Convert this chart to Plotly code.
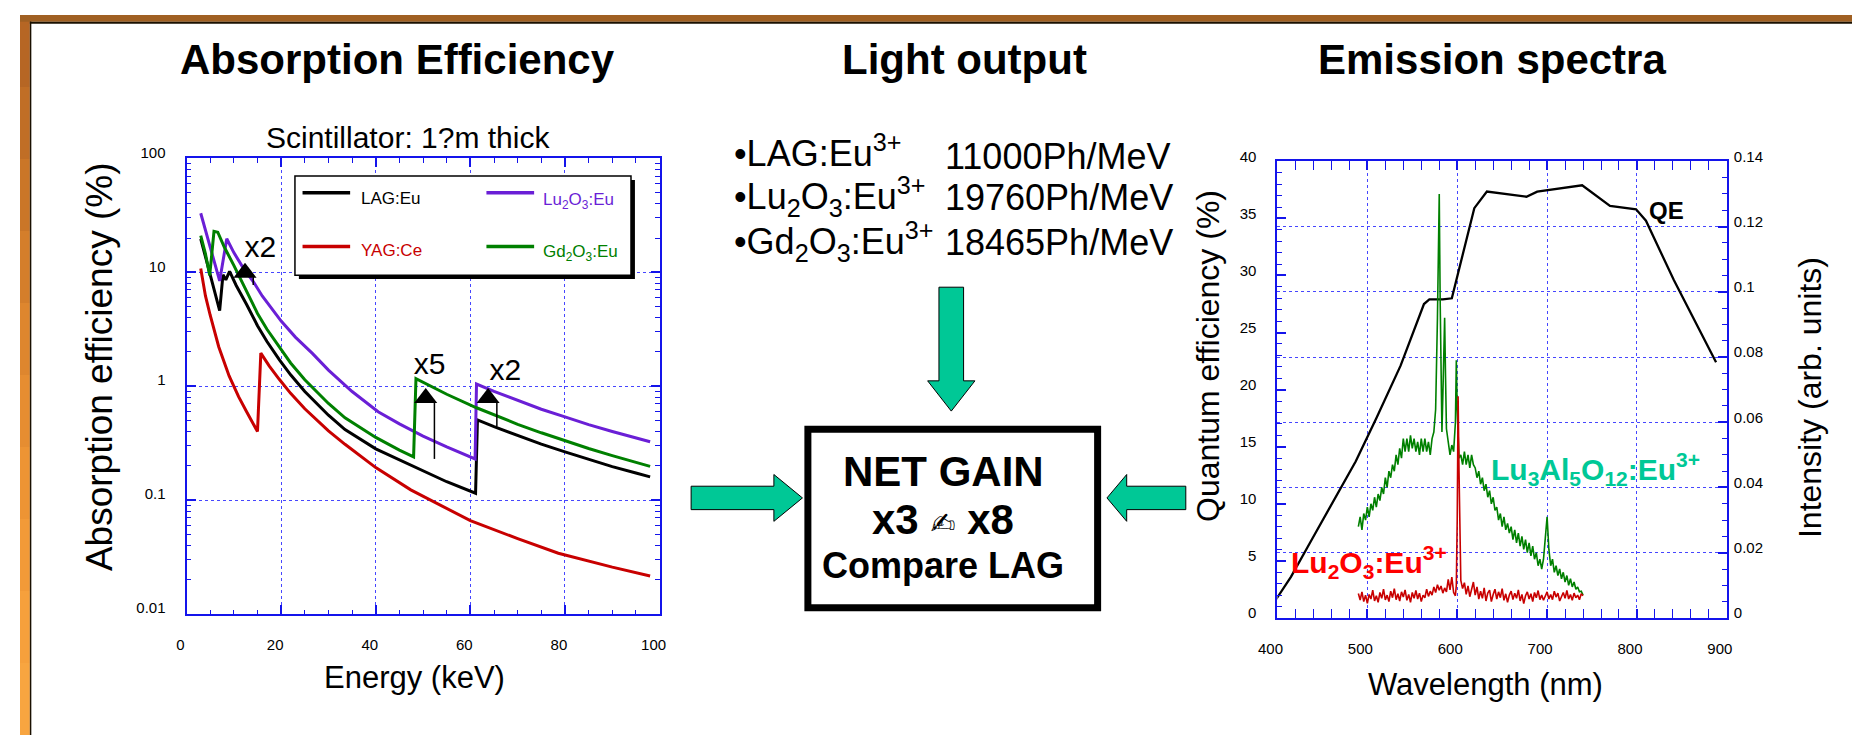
import plotly.graph_objects as go

W, H = 1859, 738
FONT = "Liberation Sans, Arial, Helvetica, sans-serif"

# ---------------- Absorption efficiency (left panel) ----------------
lag_energy = [3, 4, 5, 6, 7, 7.7, 8.3, 9.1, 10.5, 12.7, 15, 17, 19.6, 22, 25, 30, 33.5, 40, 45, 50,
              55, 61.1, 61.5, 65, 70, 75, 80, 85, 90, 95, 98]
lag_abs = [19.7, 13.7, 9.5, 6.6, 4.6, 9.5, 8.6, 10.2, 7.66, 5.22, 3.40, 2.47, 1.71, 1.26, 0.90, 0.556,
           0.416, 0.282, 0.225, 0.18, 0.145, 0.115, 0.506, 0.441, 0.367, 0.31, 0.265, 0.227, 0.197,
           0.173, 0.16]

gd_energy = [3, 4, 4.9, 5.8, 6.6, 8, 10, 12.7, 15, 17, 19.6, 22, 25, 30, 33.5, 40, 45, 48, 48.5, 55,
             61.3, 65, 70, 75, 80, 85, 90, 95, 98]
gd_abs = [21, 14.5, 9.4, 22.9, 22.5, 16.6, 11.5, 6.8, 4.35, 3.16, 2.19, 1.60, 1.14, 0.706, 0.528,
          0.355, 0.275, 0.24, 1.167, 0.85, 0.647, 0.558, 0.463, 0.39, 0.331, 0.284, 0.246, 0.215, 0.198]

lu_energy = [3, 5, 7, 8.5, 10, 12, 14.1, 16, 18, 20, 23, 26.6, 30, 35, 40.5, 45, 50, 55, 61, 61.3,
             65, 70, 75, 80, 85, 90, 95, 98]
lu_abs = [33, 16.6, 8.4, 19.7, 14.9, 10.9, 8.3, 6.2, 4.75, 3.73, 2.70, 1.94, 1.385, 0.898, 0.597,
          0.467, 0.365, 0.293, 0.23, 1.045, 0.90, 0.752, 0.628, 0.538, 0.46, 0.40, 0.35, 0.325]

yag_energy = [3, 4, 5, 6.8, 9, 11, 12.7, 15, 15.7, 17.5, 19.6, 22, 25, 30, 33.5, 40, 47.4, 55, 60,
              70, 78.6, 90, 98]
yag_abs = [10.8, 6.2, 4.2, 2.22, 1.23, 0.81, 0.597, 0.40, 1.95, 1.5, 1.15, 0.866, 0.634, 0.405,
           0.309, 0.193, 0.123, 0.0847, 0.066, 0.0459, 0.0342, 0.0258, 0.0216]

# gain markers (triangles, stems, labels)
mark_energy = [12.36, 50.56, 63.75]
mark_abs = [9.9, 0.787, 0.787]
stem_energy = [14.1, 52.4, 65.6]
stem_top = [9.14, 0.726, 0.726]
stem_bottom = [7.75, 0.23, 0.444]
gain_labels = ["x2", "x5", "x2"]
gain_label_energy = [15.6, 51.4, 67.4]
gain_label_abs = [16, 1.5, 1.33]

legend_names = ["LAG:Eu", "Lu<sub>2</sub>O<sub>3</sub>:Eu", "YAG:Ce", "Gd<sub>2</sub>O<sub>3</sub>:Eu"]

# ---------------- Light output (middle) ----------------
lo_materials = ["•LAG:Eu<sup>3+</sup>", "•Lu<sub>2</sub>O<sub>3</sub>:Eu<sup>3+</sup>",
                "•Gd<sub>2</sub>O<sub>3</sub>:Eu<sup>3+</sup>"]
lo_values = ["11000Ph/MeV", "19760Ph/MeV", "18465Ph/MeV"]

# ---------------- Emission spectra (right panel) ----------------
qe_wl = [392, 415, 437, 460, 487, 510, 537, 563, 569, 584, 594, 619, 633, 677, 689, 739, 770, 799,
         810, 841, 888]
qe_val = [0.85, 3.6, 6.7, 9.9, 13.7, 17.5, 22.1, 27.5, 27.9, 27.9, 28.0, 35.9, 37.35, 36.9, 37.35,
          37.9, 36.1, 35.8, 34.8, 29.6, 22.4]

lag_wl = (list(range(490, 577, 2)) + [578, 579, 580, 581, 582, 583, 584, 585, 586, 587, 588]
          + [590, 592, 594, 596, 598] + [599, 600, 601, 602] + list(range(604, 741, 2)))
lag_int = [0.028, 0.031, 0.027, 0.032, 0.030, 0.034, 0.031, 0.035, 0.033, 0.037,
           0.034, 0.038, 0.036, 0.040, 0.038, 0.043, 0.040, 0.045, 0.043, 0.047,
           0.045, 0.050, 0.047, 0.052, 0.049, 0.055, 0.051, 0.055, 0.051, 0.056,
           0.052, 0.055, 0.051, 0.054, 0.050, 0.055, 0.051, 0.055, 0.051, 0.054,
           0.050, 0.055, 0.057, 0.064,
           0.092, 0.115, 0.130, 0.098, 0.063, 0.057, 0.068, 0.086, 0.092, 0.074, 0.058,
           0.054, 0.050, 0.053, 0.051, 0.060,
           0.079, 0.064, 0.053, 0.049,
           0.050, 0.047, 0.051, 0.047, 0.050, 0.046, 0.050, 0.047, 0.046, 0.043,
           0.045, 0.041, 0.043, 0.039, 0.041, 0.037, 0.039, 0.035, 0.037, 0.033,
           0.034, 0.030, 0.032, 0.028, 0.031, 0.027, 0.029, 0.026, 0.028, 0.024,
           0.027, 0.023, 0.026, 0.022, 0.025, 0.021, 0.024, 0.020, 0.023, 0.019,
           0.022, 0.018, 0.020, 0.016, 0.018, 0.015, 0.018, 0.024, 0.031, 0.021,
           0.016, 0.018, 0.014, 0.016, 0.013, 0.015, 0.012, 0.014, 0.011, 0.013,
           0.010, 0.012, 0.0095, 0.011, 0.0088, 0.0095, 0.0080, 0.0082, 0.0070]

luo_wl = list(range(490, 599, 2)) + [599, 600, 601, 602, 603] + list(range(604, 741, 2))
luo_int = [0.0075, 0.0055, 0.0080, 0.0050, 0.0070, 0.0045, 0.0072, 0.0058, 0.0085, 0.0052,
           0.0068, 0.0048, 0.0078, 0.0060, 0.0088, 0.0055, 0.0070, 0.0050, 0.0082, 0.0062,
           0.0090, 0.0056, 0.0074, 0.0052, 0.0080, 0.0064, 0.0086, 0.0054, 0.0072, 0.0048,
           0.0078, 0.0060, 0.0084, 0.0058, 0.0076, 0.0050, 0.0070, 0.0062, 0.0088, 0.0066,
           0.0082, 0.0070, 0.0095, 0.0078, 0.0102, 0.0085, 0.0098, 0.0076, 0.0092, 0.0080,
           0.0118, 0.0086, 0.0125, 0.0078, 0.0068,
           0.0100, 0.030, 0.068, 0.045, 0.018,
           0.0115, 0.0090, 0.0108, 0.0072, 0.0098, 0.0065, 0.0090, 0.0110, 0.0070, 0.0095,
           0.0058, 0.0082, 0.0060, 0.0092, 0.0052, 0.0076, 0.0085, 0.0050, 0.0072, 0.0088,
           0.0058, 0.0080, 0.0062, 0.0090, 0.0054, 0.0074, 0.0048, 0.0070, 0.0082, 0.0056,
           0.0076, 0.0060, 0.0086, 0.0052, 0.0072, 0.0044, 0.0068, 0.0080, 0.0058, 0.0074,
           0.0050, 0.0078, 0.0062, 0.0084, 0.0056, 0.0070, 0.0054, 0.0066, 0.0080, 0.0058,
           0.0072, 0.0056, 0.0082, 0.0064, 0.0076, 0.0052, 0.0068, 0.0078, 0.0060, 0.0084,
           0.0058, 0.0072, 0.0054, 0.0076, 0.0062, 0.0070, 0.0056, 0.0074, 0.0068]

# ---------------- styling ----------------
BLACK = "#000000"
PURPLE = "#6a1fd6"
RED = "#c80000"
GREEN = "#008000"
TEAL = "#00c896"
BLUE = "rgb(20,20,235)"
GRIDBLUE = "rgb(70,70,255)"


def X(px):
    return px / W


def Y(py):
    return 1 - py / H


fig = go.Figure()

for e, a, c in [(lag_energy, lag_abs, BLACK), (yag_energy, yag_abs, RED),
                (lu_energy, lu_abs, PURPLE), (gd_energy, gd_abs, GREEN)]:
    fig.add_trace(go.Scatter(x=e, y=a, mode="lines", line=dict(color=c, width=3),
                             xaxis="x", yaxis="y", showlegend=False, hoverinfo="skip"))

stem_x, stem_y = [], []
for ex, t, b in zip(stem_energy, stem_top, stem_bottom):
    stem_x += [ex, ex, None]
    stem_y += [t, b, None]
fig.add_trace(go.Scatter(x=stem_x, y=stem_y, mode="lines", line=dict(color=BLACK, width=1.5),
                         xaxis="x", yaxis="y", showlegend=False, hoverinfo="skip"))
fig.add_trace(go.Scatter(x=mark_energy, y=mark_abs, mode="markers",
                         marker=dict(symbol="triangle-up", size=20, color=BLACK),
                         xaxis="x", yaxis="y", showlegend=False, hoverinfo="skip"))
fig.add_trace(go.Scatter(x=gain_label_energy, y=gain_label_abs, mode="text", text=gain_labels,
                         textfont=dict(family=FONT, size=30, color=BLACK),
                         xaxis="x", yaxis="y", showlegend=False, hoverinfo="skip"))

# right panel
fig.add_trace(go.Scatter(x=qe_wl, y=qe_val, mode="lines", line=dict(color=BLACK, width=2.3),
                         xaxis="x2", yaxis="y2", showlegend=False, hoverinfo="skip"))
fig.add_trace(go.Scatter(x=lag_wl, y=lag_int, mode="lines", line=dict(color=GREEN, width=1.6),
                         xaxis="x2", yaxis="y3", showlegend=False, hoverinfo="skip"))
fig.add_trace(go.Scatter(x=luo_wl, y=luo_int, mode="lines", line=dict(color=RED, width=1.6),
                         xaxis="x2", yaxis="y3", showlegend=False, hoverinfo="skip"))

tickfont = dict(family=FONT, size=15, color="black")
axis_common = dict(showline=True, linecolor=BLUE, linewidth=2, ticks="inside", tickcolor=BLUE,
                   tickwidth=1.5, ticklen=9, tickfont=tickfont, zeroline=False,
                   gridcolor=GRIDBLUE, griddash="dot", gridwidth=1)

log_minor = [k * 10.0 ** p for p in range(-2, 2) for k in range(2, 10)]

fig.update_layout(
    autosize=True, margin=dict(l=0, r=0, t=0, b=0, pad=0),
    paper_bgcolor="white", plot_bgcolor="white", showlegend=False,
    xaxis=dict(axis_common, domain=[X(169), X(649)], range=[0, 100], tickmode="linear", tick0=0,
               dtick=20, showgrid=True, mirror="allticks", anchor="y",
               minor=dict(tickmode="linear", tick0=0, dtick=5, ticks="inside", ticklen=4.5,
                          tickcolor=BLUE, tickwidth=1.2, showgrid=False),
               ticklabelstandoff=16, ticklabelshift=-6),
    yaxis=dict(axis_common, type="log", domain=[Y(614), Y(147)], range=[-2, 2], tickmode="array",
               tickvals=[0.01, 0.1, 1, 10, 100], ticktext=["0.01", "0.1", "1", "10", "100"],
               showgrid=True, mirror="allticks", anchor="x",
               minor=dict(tickmode="array", tickvals=log_minor, ticks="inside", ticklen=4.5,
                          tickcolor=BLUE, tickwidth=1.2, showgrid=False),
               ticklabelstandoff=16, ticklabelshift=-6),
    xaxis2=dict(axis_common, domain=[X(1276), X(1732)], range=[400, 900], tickmode="linear",
                tick0=400, dtick=100, showgrid=True, mirror="allticks", anchor="y2",
                minor=dict(tickmode="linear", tick0=400, dtick=20, ticks="inside", ticklen=4.5,
                           tickcolor=BLUE, tickwidth=1.2, showgrid=False),
                ticklabelstandoff=16, ticklabelshift=-7),
    yaxis2=dict(axis_common, domain=[Y(618), Y(150)], range=[0, 40], tickmode="linear", tick0=0,
                dtick=5, showgrid=False, anchor="x2", side="left",
                minor=dict(tickmode="linear", tick0=0, dtick=1, ticks="inside", ticklen=4.5,
                           tickcolor=BLUE, tickwidth=1.2, showgrid=False),
                ticklabelstandoff=16, ticklabelshift=-5),
    yaxis3=dict(axis_common, overlaying="y2", side="right", anchor="x2", range=[0, 0.14],
                tickmode="linear", tick0=0, dtick=0.02, showgrid=True,
                minor=dict(tickmode="linear", tick0=0, dtick=0.005, ticks="inside", ticklen=4.5,
                           tickcolor=BLUE, tickwidth=1.2, showgrid=False),
                ticklabelstandoff=2, ticklabelshift=-5),
)

shapes = []
# frame: left gradient strip and top bar
bands = [(182, 102, 36), (192, 110, 38), (202, 118, 40), (212, 126, 43), (222, 134, 46),
         (230, 141, 49), (237, 148, 52), (242, 154, 56), (246, 160, 60), (248, 165, 64)]
n = len(bands)
for i, (r, g, b) in enumerate(bands):
    shapes.append(dict(type="rect", xref="paper", yref="paper", x0=0, x1=X(10),
                       y0=1 - (i + 1) / n, y1=1 - i / n, fillcolor=f"rgb({r},{g},{b})",
                       line=dict(width=0), layer="above"))
shapes.append(dict(type="rect", xref="paper", yref="paper", x0=X(10), x1=X(11.5), y0=0, y1=1,
                   fillcolor="#1a1000", line=dict(width=0), layer="above"))
shapes.append(dict(type="rect", xref="paper", yref="paper", x0=0, x1=1, y0=Y(7), y1=1,
                   fillcolor="rgb(160,96,34)", line=dict(width=0), layer="above"))
shapes.append(dict(type="rect", xref="paper", yref="paper", x0=X(10), x1=1, y0=Y(9), y1=Y(7),
                   fillcolor="#1a1000", line=dict(width=0), layer="above"))

# legend box with drop shadow
shapes.append(dict(type="rect", xref="paper", yref="paper", x0=X(283), x1=X(624), y0=Y(270.7),
                   y1=Y(169), fillcolor="black", line=dict(width=0), layer="above"))
shapes.append(dict(type="rect", xref="paper", yref="paper", x0=X(279), x1=X(620), y0=Y(266.7),
                   y1=Y(165), fillcolor="white", line=dict(color="black", width=1.5),
                   layer="above"))
legend_colors = [BLACK, PURPLE, RED, GREEN]
legend_line_px = [(286.7, 335, 182.3), (473.3, 521.7, 182.3), (286.7, 335, 237.3),
                  (473.3, 521.7, 237.3)]
legend_text_px = [(344.3, 188.3), (529, 190.3), (344.3, 241.7), (529, 243.7)]
for (x0, x1, yy), c in zip(legend_line_px, legend_colors):
    shapes.append(dict(type="line", xref="paper", yref="paper", x0=X(x0), x1=X(x1), y0=Y(yy),
                       y1=Y(yy), line=dict(color=c, width=3.5), layer="above"))


def poly(points):
    return "M " + " L ".join(f"{X(px):.5f},{Y(py):.5f}" for px, py in points) + " Z"


arrow_style = dict(type="path", xref="paper", yref="paper", fillcolor=TEAL,
                   line=dict(color="black", width=1), layer="above")
shapes.append(dict(arrow_style, path=poly([(932.5, 279), (957.5, 279), (957.5, 375), (969, 375),
                                           (945, 406), (921, 375), (932.5, 375)])))
shapes.append(dict(arrow_style, path=poly([(681, 483), (765, 483), (765, 471), (794, 495),
                                           (765, 519), (765, 507), (681, 507)])))
shapes.append(dict(arrow_style, path=poly([(1183, 483), (1123, 483), (1123, 471), (1103, 495),
                                           (1123, 519), (1123, 507), (1183, 507)])))
# net gain box
shapes.append(dict(type="rect", xref="paper", yref="paper", x0=X(799.5), x1=X(1093.5),
                   y0=Y(607.5), y1=Y(424.5), fillcolor="white",
                   line=dict(color="black", width=7), layer="above"))

ann = []


def text(px, py, s, size, color="black", xanchor="center", angle=0):
    ann.append(dict(x=X(px), y=Y(py), xref="paper", yref="paper", text=s, showarrow=False,
                    xanchor=xanchor, yanchor="middle", textangle=angle,
                    font=dict(family=FONT, size=size, color=color)))


text(383, 46, "<b>Absorption Efficiency</b>", 42)
text(958, 46, "<b>Light output</b>", 42)
text(1494, 46, "<b>Emission spectra</b>", 42)
text(394, 126, "Scintillator: 1?m thick", 30)
text(400, 679, "Energy (keV)", 31)
text(1487, 686, "Wavelength (nm)", 31)
text(80, 360, "Absorption efficiency (%)", 37, angle=-90)
text(1206, 349, "Quantum efficiency (%)", 32, angle=-90)
text(1817, 392, "Intensity (arb. units)", 32, angle=-90)

for name, (tx, ty), c in zip(legend_names, legend_text_px, legend_colors):
    text(tx, ty, name, 17, color=c, xanchor="left")

name_centers = [139.7, 186, 232]
value_centers = [145.5, 187.5, 233.5]
for s, cy in zip(lo_materials, name_centers):
    text(723, cy, s, 36, xanchor="left")
for s, cy in zip(lo_values, value_centers):
    text(937, cy, s, 36, xanchor="left")

text(937, 467.5, "<b>NET GAIN</b>", 42)
text(937, 517, "<b>x3</b> <span style='font-family:DejaVu Sans;font-size:30px;font-weight:normal'>"
     "\u270d\ufe0e</span> <b>x8</b>", 42)
text(937, 564.5, "<b>Compare LAG</b>", 36)

text(1671, 200, "<b>QE</b>", 24)
text(1491, 465, "<b>Lu<sub>3</sub>Al<sub>5</sub>O<sub>12</sub>:Eu<sup>3+</sup></b>", 30,
     color=TEAL, xanchor="left")
text(1288, 561, "<b>Lu<sub>2</sub>O<sub>3</sub>:Eu<sup>3+</sup></b>", 30, color="#ff0000",
     xanchor="left")

fig.update_layout(shapes=shapes, annotations=ann)

fig.write_html("out.html", config={"displayModeBar": False},
               default_width=f"{W}px; position:absolute; left:0px; top:0px",
               default_height=f"{H}px",
               post_script="document.body.style.margin='0';document.body.style.overflow='hidden';")
